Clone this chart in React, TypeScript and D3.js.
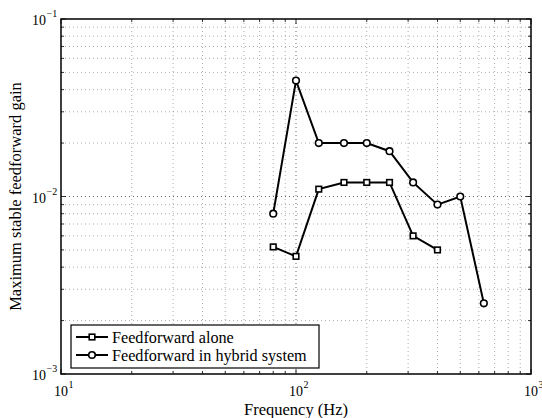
import React from "react";
import * as d3 from "d3";

const freqAlone = [80, 100, 125, 160, 200, 250, 315, 400];
const gainAlone = [0.0052, 0.0046, 0.011, 0.012, 0.012, 0.012, 0.006, 0.005];
const freqHybrid = [80, 100, 125, 160, 200, 250, 315, 400, 500, 630];
const gainHybrid = [0.008, 0.045, 0.02, 0.02, 0.02, 0.018, 0.012, 0.009, 0.01, 0.0025];
const xMajor = [10, 100, 1000];
const xMajorExp = ["1", "2", "3"];
const yMajor = [0.001, 0.01, 0.1];
const yMajorExp = ["−3", "−2", "−1"];
const legendLabels = ["Feedforward alone", "Feedforward in hybrid system"];

const W = 542, H = 418;
const L = 61, R = 531, T = 19, B = 374;
const FONT = "Liberation Serif";

function minors(decadeStarts: number[]) {
  const out: number[] = [];
  decadeStarts.forEach((d) => {
    for (let k = 2; k <= 9; k++) out.push(d * k);
  });
  return out;
}

export default function App() {
  const x = d3.scaleLog().domain([10, 1000]).range([L, R]);
  const y = d3.scaleLog().domain([0.001, 0.1]).range([B, T]);
  const xMinor = minors([10, 100]);
  const yMinor = minors([0.001, 0.01]);
  const line = d3.line<[number, number]>().x((d) => x(d[0])).y((d) => y(d[1]));
  const aloneData: [number, number][] = freqAlone.map((f, i) => [f, gainAlone[i]]);
  const hybridData: [number, number][] = freqHybrid.map((f, i) => [f, gainHybrid[i]]);

  const gridStyle = { stroke: "#000", strokeWidth: 0.6, strokeDasharray: "1,3" };
  const minorGridStyle = { stroke: "#777", strokeWidth: 0.6, strokeDasharray: "1,3" };
  const ts = { fontFamily: FONT };

  const lgX = 71, lgY = 325, lgW = 248, lgH = 43;

  return (
    <svg width={W} height={H} style={{ position: "absolute", left: 0, top: 0, background: "#fff", fontFamily: FONT }}>
      <rect x={0} y={0} width={W} height={H} fill="#fff" />
      {xMinor.map((v) => (
        <line key={"gx" + v} x1={x(v)} x2={x(v)} y1={T} y2={B} {...minorGridStyle} />
      ))}
      {yMinor.map((v) => (
        <line key={"gy" + v} x1={L} x2={R} y1={y(v)} y2={y(v)} {...minorGridStyle} />
      ))}
      {xMajor.slice(1, -1).map((v) => (
        <line key={"gX" + v} x1={x(v)} x2={x(v)} y1={T} y2={B} {...gridStyle} />
      ))}
      {yMajor.slice(1, -1).map((v) => (
        <line key={"gY" + v} x1={L} x2={R} y1={y(v)} y2={y(v)} {...gridStyle} />
      ))}
      {xMinor.map((v) => (
        <g key={"tx" + v} stroke="#000" strokeWidth={0.8}>
          <line x1={x(v)} x2={x(v)} y1={B} y2={B - 3} />
          <line x1={x(v)} x2={x(v)} y1={T} y2={T + 3} />
        </g>
      ))}
      {yMinor.map((v) => (
        <g key={"ty" + v} stroke="#000" strokeWidth={0.8}>
          <line x1={L} x2={L + 3} y1={y(v)} y2={y(v)} />
          <line x1={R} x2={R - 3} y1={y(v)} y2={y(v)} />
        </g>
      ))}
      {xMajor.map((v) => (
        <g key={"tX" + v} stroke="#000" strokeWidth={0.8}>
          <line x1={x(v)} x2={x(v)} y1={B} y2={B - 5} />
          <line x1={x(v)} x2={x(v)} y1={T} y2={T + 5} />
        </g>
      ))}
      {yMajor.map((v) => (
        <g key={"tY" + v} stroke="#000" strokeWidth={0.8}>
          <line x1={L} x2={L + 5} y1={y(v)} y2={y(v)} />
          <line x1={R} x2={R - 5} y1={y(v)} y2={y(v)} />
        </g>
      ))}
      <rect x={L} y={T} width={R - L} height={B - T} fill="none" stroke="#000" strokeWidth={1.5} />
      {xMajor.map((v, i) => (
        <g key={"lx" + v}>
          <text x={x(v)} y={B + 22} fontSize={14} textAnchor="middle" fill="#000" style={ts}>10</text>
          <text x={x(v) + 7.5} y={B + 14} fontSize={10} textAnchor="start" fill="#000" style={ts}>{xMajorExp[i]}</text>
        </g>
      ))}
      {yMajor.map((v, i) => (
        <g key={"ly" + v}>
          <text x={46} y={y(v) + 6} fontSize={14} textAnchor="end" fill="#000" style={ts}>10</text>
          <text x={46.5} y={y(v) - 2} fontSize={10} textAnchor="start" fill="#000" style={ts}>{yMajorExp[i]}</text>
        </g>
      ))}
      <text x={(L + R) / 2} y={415} fontSize={16.5} textAnchor="middle" fill="#000" style={ts}>Frequency (Hz)</text>
      <text transform={`translate(21,${(T + B) / 2}) rotate(-90)`} fontSize={16.5} textAnchor="middle" fill="#000" style={ts}>
        Maximum stable feedforward gain
      </text>
      <path d={line(aloneData) || ""} fill="none" stroke="#000" strokeWidth={2} />
      <path d={line(hybridData) || ""} fill="none" stroke="#000" strokeWidth={2} />
      {aloneData.map((d, i) => (
        <rect key={"sq" + i} x={x(d[0]) - 2.8} y={y(d[1]) - 2.8} width={5.6} height={5.6} fill="#fff" stroke="#000" strokeWidth={1.6} />
      ))}
      {hybridData.map((d, i) => (
        <circle key={"ci" + i} cx={x(d[0])} cy={y(d[1])} r={3.3} fill="#fff" stroke="#000" strokeWidth={1.6} />
      ))}
      <rect x={lgX} y={lgY} width={lgW} height={lgH} fill="#fff" stroke="#000" strokeWidth={1.2} />
      {legendLabels.map((lab, i) => {
        const cy = lgY + 12 + i * 18;
        return (
          <g key={"lg" + i}>
            <line x1={lgX + 5} x2={lgX + 37} y1={cy} y2={cy} stroke="#000" strokeWidth={2} />
            {i === 0 ? (
              <rect x={lgX + 21 - 2.8} y={cy - 2.8} width={5.6} height={5.6} fill="#fff" stroke="#000" strokeWidth={1.6} />
            ) : (
              <circle cx={lgX + 21} cy={cy} r={3.3} fill="#fff" stroke="#000" strokeWidth={1.6} />
            )}
            <text x={lgX + 41} y={cy + 5.5} fontSize={16.2} fill="#000" style={ts}>{lab}</text>
          </g>
        );
      })}
    </svg>
  );
}
